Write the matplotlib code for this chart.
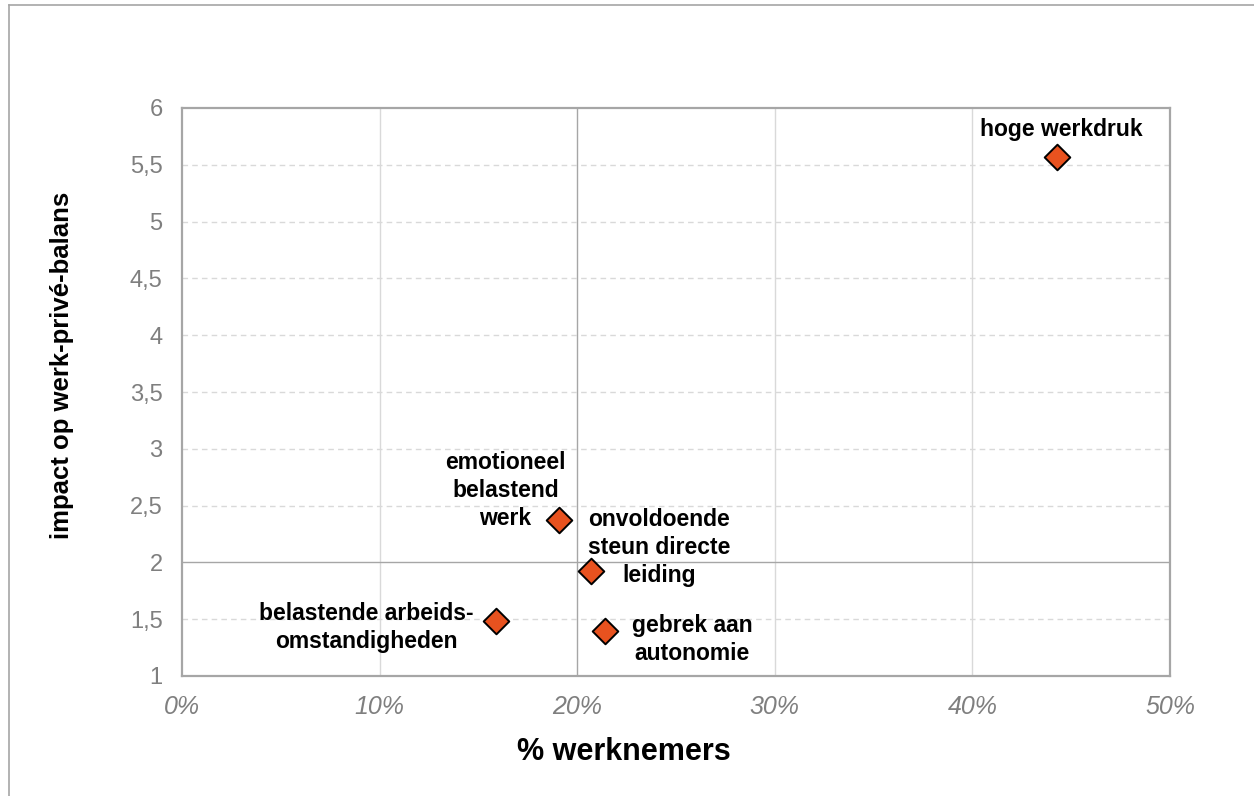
import matplotlib
matplotlib.use("Agg")
import matplotlib.pyplot as plt
from matplotlib.lines import Line2D
from matplotlib.ticker import FuncFormatter

labels = ["hoge werkdruk",
          "emotioneel\nbelastend\nwerk",
          "onvoldoende\nsteun directe\nleiding",
          "belastende arbeids-\nomstandigheden",
          "gebrek aan\nautonomie"]
pct_workers = [44.3, 19.1, 20.7, 15.9, 21.4]
impact = [5.57, 2.37, 1.92, 1.48, 1.40]
x_ticks = [0, 10, 20, 30, 40, 50]
y_ticks = [1, 1.5, 2, 2.5, 3, 3.5, 4, 4.5, 5, 5.5, 6]

W, H, DPI = 1254, 796, 100
fig = plt.figure(figsize=(W / DPI, H / DPI), dpi=DPI)
ax = fig.add_axes([182 / W, 1 - 676 / H, (1170 - 182) / W, (676 - 108) / H])

ax.set_xlim(0, 50)
ax.set_ylim(1, 6)

# grid
for xv in x_ticks[1:-1]:
    ax.axvline(xv, color="#a6a6a6" if xv == 20 else "#d9d9d9", lw=1.0, zorder=1)
for yv in y_ticks[1:-1]:
    if yv == 2:
        ax.axhline(yv, color="#a6a6a6", lw=1.0, zorder=1)
    else:
        ax.axhline(yv, color="#d9d9d9", lw=1.0, ls=(0, (4, 3)), zorder=1)

for s in ax.spines.values():
    s.set_color("#a6a6a6")
    s.set_linewidth(1.6)

ax.set_xticks(x_ticks)
ax.set_yticks(y_ticks)
ax.xaxis.set_major_formatter(FuncFormatter(lambda v, p: f"{int(v)}%"))
ax.yaxis.set_major_formatter(FuncFormatter(lambda v, p: (f"{v:g}").replace(".", ",")))
ax.tick_params(length=0, colors="#7f7f7f")
ax.tick_params(axis="x", pad=14, labelsize=18)
ax.tick_params(axis="y", pad=14, labelsize=17)
for t in ax.get_xticklabels():
    t.set_fontstyle("italic")
    t.set_family(["Liberation Sans", "DejaVu Sans"])
for t in ax.get_yticklabels():
    t.set_family(["Liberation Sans", "DejaVu Sans"])

ax.scatter(pct_workers, impact, marker="D", s=170, color="#e8521f",
           edgecolor="black", linewidth=1.4, zorder=5, clip_on=False)

offsets = [(4, 27), (-54, 30), (68, 24), (-130, -6), (87, -9)]
for lab, xv, yv, (dx, dy) in zip(labels, pct_workers, impact, offsets):
    ax.annotate(lab, (xv, yv), xytext=(dx * 0.72, dy * 0.72), textcoords="offset points",
                ha="center", va="center", multialignment="center",
                fontsize=16.5, fontweight="bold", linespacing=1.28,
                family=["Liberation Sans", "DejaVu Sans"], zorder=6)

fig.text(624 / W, 1 - 752 / H, "% werknemers", ha="center", va="center",
         fontsize=22, fontweight="bold",
         family=["Liberation Sans", "DejaVu Sans"])
fig.text(62 / W, 1 - 365 / H, "impact op werk-privé-balans", ha="center", va="center",
         rotation=90, fontsize=18.5, fontweight="bold",
         family=["Liberation Sans", "DejaVu Sans"])

# outer chart border (left and top)
fig.add_artist(Line2D([9 / W, 9 / W], [0, 1 - 5 / H], color="#a6a6a6", lw=1.2,
                      transform=fig.transFigure))
fig.add_artist(Line2D([9 / W, 1], [1 - 5 / H, 1 - 5 / H], color="#a6a6a6", lw=1.2,
                      transform=fig.transFigure))

fig.savefig("out.png", dpi=DPI)
